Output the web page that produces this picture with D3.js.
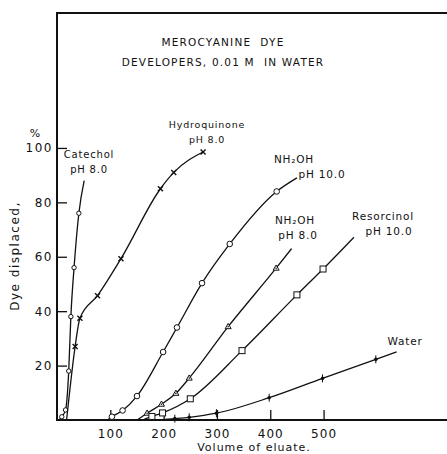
<!DOCTYPE html>
<html>
<head>
<meta charset="utf-8">
<script src="https://cdn.jsdelivr.net/npm/d3@7"></script>
<style>
  body { margin: 0; background: #fff; }
  svg text { font-family: "DejaVu Sans", sans-serif; fill: #111; white-space: pre; }
</style>
</head>
<body>
<svg id="chart" width="447" height="454"></svg>
<script>
// Values: [volume of eluate, % dye displaced]
const catechol = [[4, 0], [9, 1.2], [16, 3.7], [22, 18], [26, 38], [32, 56], [41, 76], [51, 88]];
const hydroquinone = [[18, 0], [34, 27], [43, 37.4], [76, 45.7], [120, 59.3], [194, 85], [219, 91], [274, 98.5]];
const nh2ohPh10 = [[95, 0], [103, 1.2], [123, 3.5], [150, 8.8], [199, 25], [225, 34], [272, 50.3], [324, 64.7], [412, 84], [450, 89]];
const nh2ohPh8 = [[150, 0], [169, 2.5], [196, 5.8], [223, 9.8], [248, 15.4], [321, 34.3], [411, 55.8], [440, 63]];
const resorcinol = [[160, 0], [178, 1.3], [198, 2.6], [250, 7.8], [347, 25.5], [450, 46], [499, 55.5], [557, 67.2]];
const water = [[190, 0], [221, 0.5], [248, 1], [299, 2.5], [398, 8.2], [498, 15.3], [598, 22.3], [637, 25]];

const xTicks = [100, 200, 300, 400, 500];
const yTicks = [20, 40, 60, 80, 100];

const titleLines = ["MEROCYANINE  DYE", "DEVELOPERS, 0.01 M  IN WATER"];

const svg = d3.select("#chart");
const width = +svg.attr("width");

const x = d3.scaleLinear().domain([0, 731.5]).range([57, 447]);
const y = d3.scaleLinear().domain([0, 149.6]).range([420, 13]);

// Frame: left axis, top line, bottom axis
svg.append("path")
  .attr("d", `M${width},${y(149.6)}H${x(0)}V${y(0)}H${width}`)
  .attr("fill", "none")
  .attr("stroke", "#111")
  .attr("stroke-width", 2);

// Axes with inward ticks
const xAxis = svg.append("g")
  .attr("transform", `translate(0,${y(0)})`)
  .call(d3.axisBottom(x).tickValues(xTicks).tickSize(-10).tickPadding(4));
xAxis.select(".domain").remove();
xAxis.selectAll("line").attr("stroke", "#111").attr("stroke-width", 1.3);
xAxis.selectAll(".tick text")
  .attr("y", 7)
  .attr("dy", "0.95em")
  .style("font-size", "12px")
  .style("letter-spacing", "1px");

const yAxis = svg.append("g")
  .attr("transform", `translate(${x(0)},0)`)
  .call(d3.axisLeft(y).tickValues(yTicks).tickSize(-10).tickPadding(4));
yAxis.select(".domain").remove();
yAxis.selectAll("line").attr("stroke", "#111").attr("stroke-width", 1.3);
yAxis.selectAll("text")
  .style("font-size", "12px")
  .style("letter-spacing", "1.5px");

svg.append("text")
  .attr("x", 35).attr("y", 137)
  .attr("text-anchor", "middle")
  .style("font-size", "11px")
  .text("%");

// Title
svg.selectAll(".title")
  .data(titleLines)
  .enter()
  .append("text")
  .attr("class", "title")
  .attr("x", 223)
  .attr("y", (d, i) => 46 + i * 20)
  .attr("text-anchor", "middle")
  .style("font-size", "10.5px")
  .style("letter-spacing", "1.2px")
  .text(d => d);

// Axis titles
svg.append("text")
  .attr("transform", "translate(19,256) rotate(-90)")
  .attr("text-anchor", "middle")
  .style("font-size", "12px")
  .style("letter-spacing", "1.5px")
  .text("Dye displaced,");

svg.append("text")
  .attr("x", 254).attr("y", 451)
  .attr("text-anchor", "middle")
  .style("font-size", "11px")
  .style("letter-spacing", "1px")
  .text("Volume of eluate.");

const line = d3.line()
  .x(d => x(d[0]))
  .y(d => y(d[1]))
  .curve(d3.curveMonotoneX);

const series = [
  { data: catechol, marker: "circle", first: 1, last: catechol.length - 2 },
  { data: hydroquinone, marker: "cross", first: 1, last: hydroquinone.length - 1 },
  { data: nh2ohPh10, marker: "bigcircle", first: 1, last: nh2ohPh10.length - 2 },
  { data: nh2ohPh8, marker: "triangle", first: 1, last: nh2ohPh8.length - 2 },
  { data: resorcinol, marker: "square", first: 1, last: resorcinol.length - 2 },
  { data: water, marker: "dot", first: 1, last: water.length - 2 }
];

const plot = svg.append("g");

series.forEach(s => {
  plot.append("path")
    .datum(s.data)
    .attr("d", line)
    .attr("fill", "none")
    .attr("stroke", "#111")
    .attr("stroke-width", 1.3);

  const pts = s.data.slice(s.first, s.last + 1);
  const g = plot.append("g");
  pts.forEach(p => {
    const px = x(p[0]), py = y(p[1]);
    if (s.marker === "circle" || s.marker === "bigcircle") {
      g.append("circle")
        .attr("cx", px).attr("cy", py)
        .attr("r", s.marker === "circle" ? 2.2 : 2.8)
        .attr("fill", "#fff").attr("stroke", "#111").attr("stroke-width", 1);
    } else if (s.marker === "square") {
      g.append("rect")
        .attr("x", px - 3).attr("y", py - 3)
        .attr("width", 6).attr("height", 6)
        .attr("fill", "#fff").attr("stroke", "#111").attr("stroke-width", 1);
    } else if (s.marker === "triangle") {
      g.append("path")
        .attr("d", `M${px},${py - 3.2}L${px + 3},${py + 2}L${px - 3},${py + 2}Z`)
        .attr("fill", "#fff").attr("stroke", "#111").attr("stroke-width", 1);
      g.append("circle").attr("cx", px).attr("cy", py).attr("r", 0.8).attr("fill", "#111");
    } else if (s.marker === "cross") {
      g.append("path")
        .attr("d", `M${px - 2.5},${py - 2.5}L${px + 2.5},${py + 2.5}M${px + 2.5},${py - 2.5}L${px - 2.5},${py + 2.5}`)
        .attr("stroke", "#111").attr("stroke-width", 1.4);
    } else if (s.marker === "dot") {
      g.append("circle").attr("cx", px).attr("cy", py).attr("r", 1.8).attr("fill", "#111");
      g.append("path")
        .attr("d", `M${px},${py - 4}V${py + 4}`)
        .attr("stroke", "#111").attr("stroke-width", 1);
    }
  });
});

// Curve labels
const labels = [
  { lines: ["Catechol", "pH 8.0"], x: 89, y: 158, size: 10 },
  { lines: ["Hydroquinone", "pH 8.0"], x: 207, y: 128, size: 9.5 },
  { lines: ["NH₂OH", "pH 10.0"], x: [294, 322], y: 163, size: 10.5 },
  { lines: ["NH₂OH", "pH 8.0"], x: [295, 298], y: 224, size: 10.5 },
  { lines: ["Resorcinol", "pH 10.0"], x: [383, 389], y: 220, size: 10.5 },
  { lines: ["Water"], x: 405, y: 345, size: 10.5 }
];

labels.forEach(l => {
  l.lines.forEach((t, i) => {
    svg.append("text")
      .attr("x", Array.isArray(l.x) ? l.x[i] : l.x)
      .attr("y", l.y + i * 15)
      .attr("text-anchor", "middle")
      .style("font-size", l.size + "px")
      .style("letter-spacing", "0.8px")
      .text(t);
  });
});
</script>
</body>
</html>
